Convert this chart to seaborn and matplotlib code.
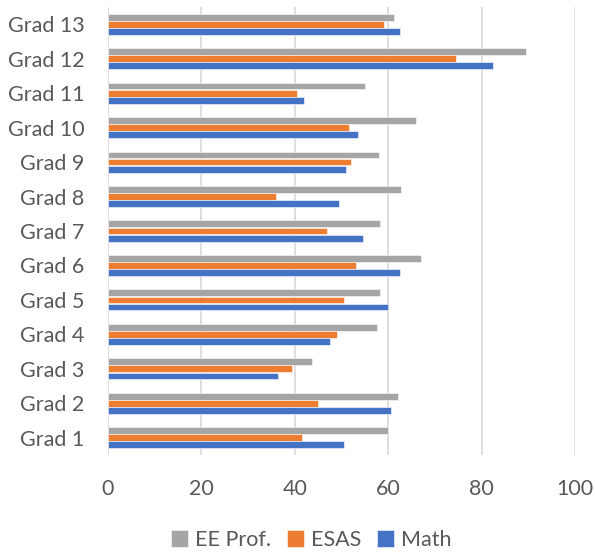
import matplotlib
matplotlib.use("Agg")
import matplotlib.pyplot as plt
import seaborn as sns
import pandas as pd

grades = [f"Grad {i}" for i in range(1, 14)]
math = [50.5, 60.5, 36.5, 47.5, 60.0, 62.5, 54.5, 49.5, 51.0, 53.5, 42.0, 82.5, 62.5]
esas = [41.5, 45.0, 39.5, 49.0, 50.5, 53.0, 47.0, 36.0, 52.0, 51.5, 40.5, 74.5, 59.0]
ee_prof = [60.0, 62.0, 43.6, 57.5, 58.3, 67.0, 58.3, 62.7, 58.0, 66.0, 55.0, 89.5, 61.3]

series = ["EE Prof.", "ESAS", "Math"]
colors = ["#A5A5A5", "#ED7D31", "#4472C4"]
xticks = [0, 20, 40, 60, 80, 100]

rows = []
for name, vals in zip(series, [ee_prof, esas, math]):
    for g, v in zip(grades, vals):
        rows.append({"grade": g, "series": name, "value": v})
df = pd.DataFrame(rows)

sns.set_theme(style="white")
plt.rcParams["font.family"] = ["Lato", "DejaVu Sans"]

fig = plt.figure(figsize=(5.95, 5.54), dpi=100)
ax = fig.add_axes([108 / 595, 1 - 455 / 554, 467 / 595, 448 / 554])

sns.barplot(
    data=df, x="value", y="grade", hue="series",
    order=grades[::-1], hue_order=series, palette=colors,
    orient="h", width=0.62, gap=0.04, saturation=1,
    edgecolor="white", linewidth=0.4, ax=ax, legend=True,
)

ax.set_xlim(0, 100)
ax.set_xticks(xticks)
ax.set_xlabel("")
ax.set_ylabel("")
ax.grid(axis="x", color="#D9D9D9", linewidth=1.2)
ax.grid(axis="y", visible=False)
ax.set_axisbelow(True)
for s in ax.spines.values():
    s.set_visible(False)

ax.tick_params(axis="x", length=0, pad=17, labelsize=15.5, labelcolor="#595959")
ax.tick_params(axis="y", length=0, pad=17, labelsize=15.5, labelcolor="#595959")

handles, labels = ax.get_legend_handles_labels()
ax.get_legend().remove()
fig.legend(
    handles, labels, loc="center", bbox_to_anchor=(311 / 595, 1 - 540 / 554),
    ncol=3, frameon=False, fontsize=15.5, labelcolor="#595959",
    handlelength=0.8, handleheight=0.8, handletextpad=0.3, columnspacing=0.75,
)

fig.savefig("out.png", dpi=100)
